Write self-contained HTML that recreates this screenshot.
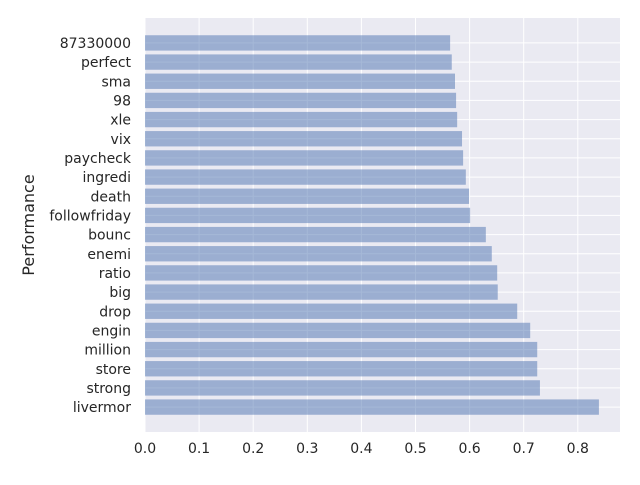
<!DOCTYPE html>
<html><head><meta charset="utf-8"><style>
body{margin:0;background:#fff;}
svg text{font-family:"DejaVu Sans","Liberation Sans",sans-serif;fill:#262626;}
</style></head><body>
<svg id="chart" width="640" height="480" xmlns="http://www.w3.org/2000/svg">
<rect x="145" y="18" width="475" height="414" fill="#eaeaf2"/>
<g id="grid"></g><g id="bars"></g><g id="xticks"></g><g id="yticks"></g>
<text transform="translate(34,225) rotate(-90)" text-anchor="middle" font-size="16">Performance</text>
</svg>
<script>
const categories=["livermor","strong","store","million","engin","drop","big","ratio","enemi","bounc","followfriday","death","ingredi","paycheck","vix","xle","98","sma","perfect","87330000"];
const values=[0.839,0.730,0.725,0.725,0.712,0.688,0.652,0.651,0.641,0.630,0.601,0.599,0.593,0.588,0.586,0.577,0.575,0.573,0.567,0.564];
const xTicks=[0,0.1,0.2,0.3,0.4,0.5,0.6,0.7,0.8];
const xTickLabels=["0.0","0.1","0.2","0.3","0.4","0.5","0.6","0.7","0.8"];
const NS="http://www.w3.org/2000/svg";
const L=145,R=620,T=18,B=432,x0=0,x1=0.878,yMin=-1.3,yMax=categories.length+0.3;
const xs=v=>L+(v-x0)/(x1-x0)*(R-L);
const ys=i=>B-(i-yMin)/(yMax-yMin)*(B-T);
function mk(t,a,p){const e=document.createElementNS(NS,t);for(const k in a)e.setAttribute(k,a[k]);p.appendChild(e);return e;}
const grid=document.getElementById('grid'),bars=document.getElementById('bars'),xt=document.getElementById('xticks'),yt=document.getElementById('yticks');
xTicks.forEach((v,i)=>{
 const g=mk('line',{x1:xs(v),x2:xs(v),y1:T,y2:B,stroke:'#fff','stroke-width':1},grid);
 
 
 const t=mk('text',{x:xs(v),y:B+21,'text-anchor':'middle','font-size':14},xt);
 t.textContent=xTickLabels[i];
 
 
});
const unit=(B-T)/(yMax-yMin);
categories.forEach((c,i)=>{
 const gl=mk('line',{x1:L,x2:R,y1:ys(i),y2:ys(i),stroke:'#fff','stroke-width':1},grid);
 
 
 const r=mk('rect',{x:xs(0),y:ys(i)-0.4*unit,width:xs(values[i])-xs(0),height:0.8*unit,fill:'#4c72b0','fill-opacity':0.5},bars);
 
 
 const t=mk('text',{x:L-14,y:ys(i)+5,'text-anchor':'end','font-size':14},yt);
 t.textContent=c;
 
 
});
</script>
</body></html>
